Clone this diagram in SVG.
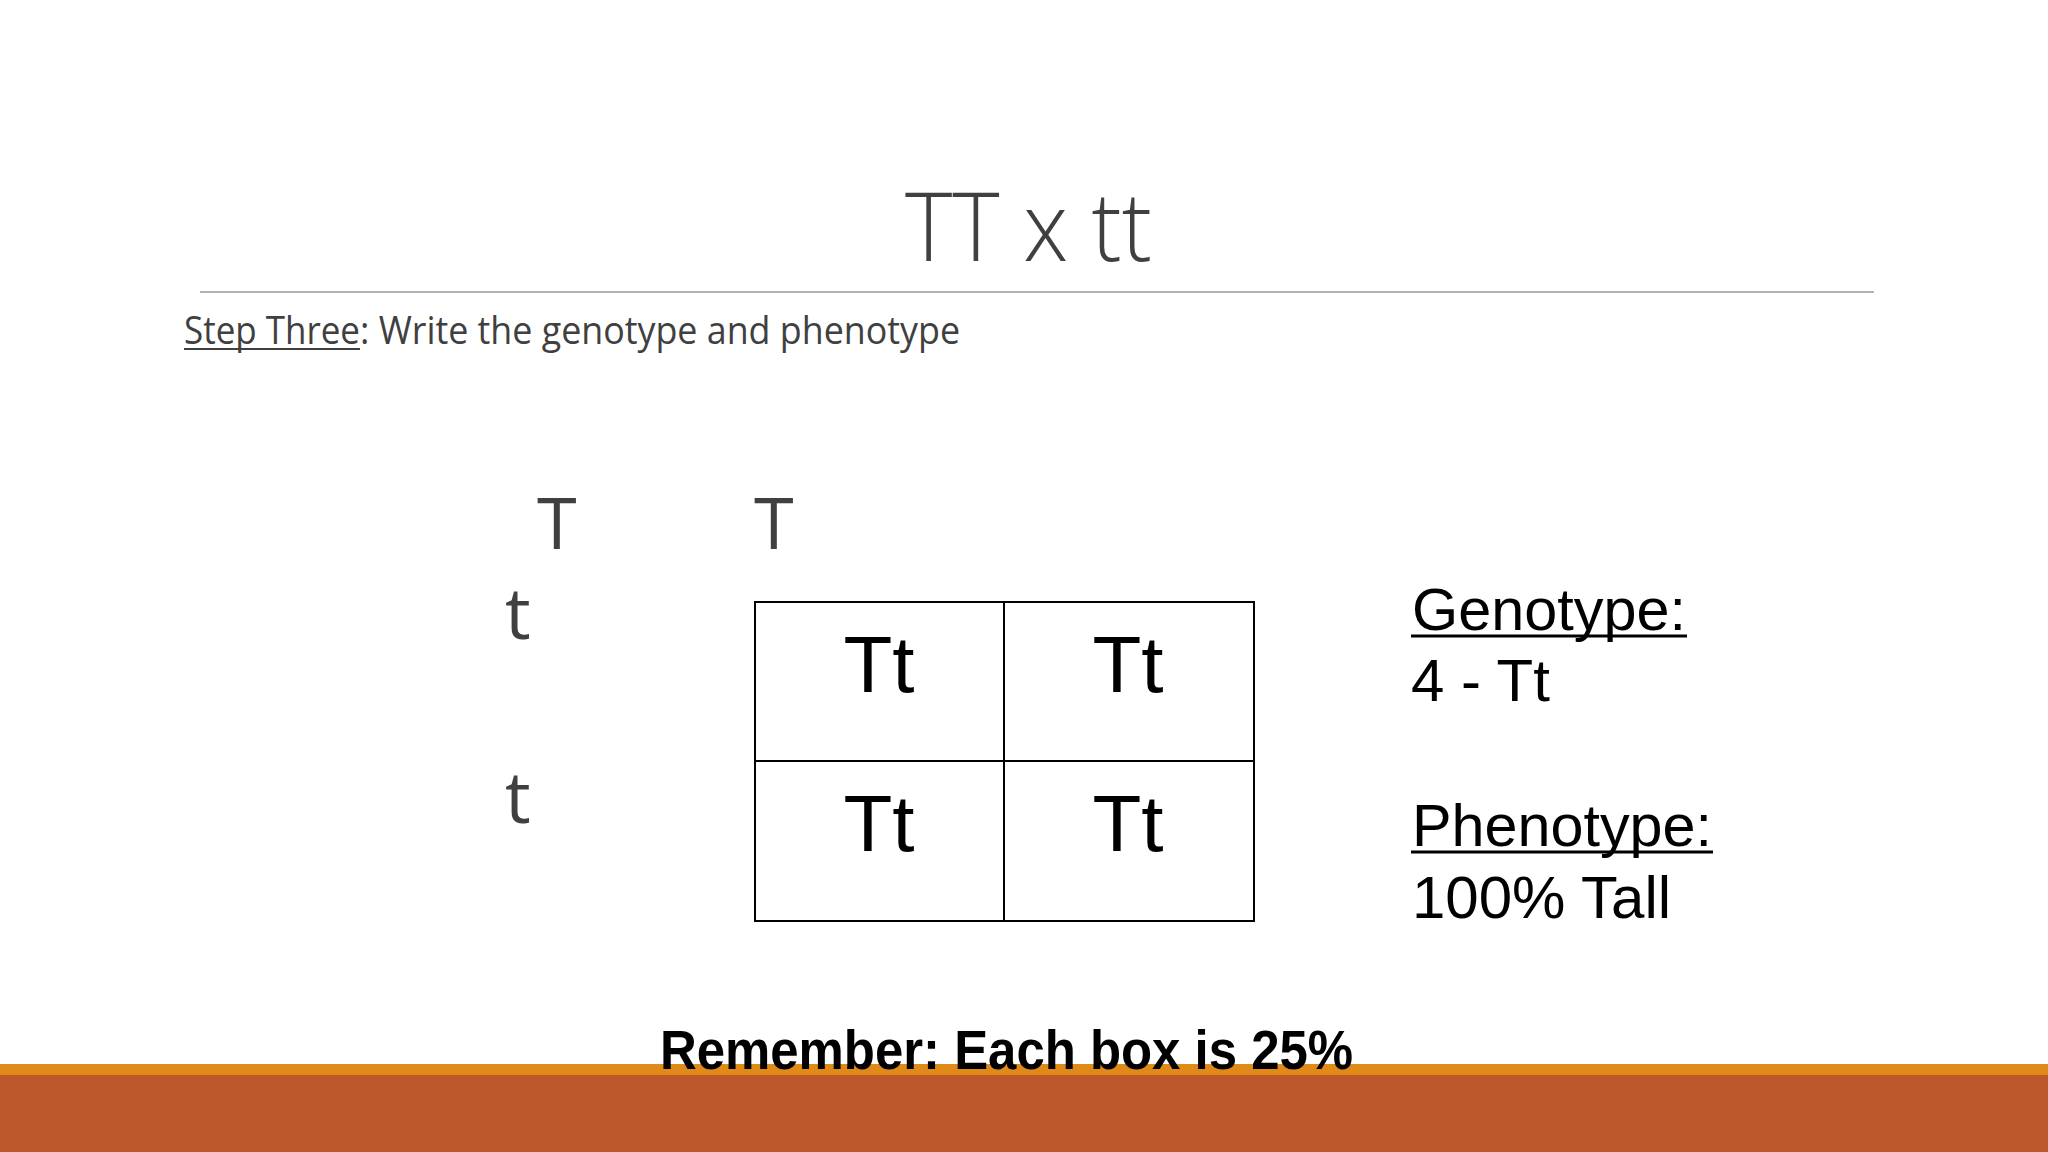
<svg xmlns="http://www.w3.org/2000/svg" width="2048" height="1152" viewBox="0 0 2048 1152">
<style>
.title{font-family:"Open Sans","Liberation Sans",sans-serif;font-weight:300;fill:#404040}
.sub{font-family:"Open Sans","Liberation Sans",sans-serif;font-size:38px;fill:#404040}
.allele{font-family:"Open Sans","Liberation Sans",sans-serif;font-size:72px;fill:#404040}
.cell{font-family:"Liberation Sans",Arial,sans-serif;font-size:80px;fill:#000;text-anchor:middle}
.info{font-family:"Liberation Sans",Arial,sans-serif;font-size:60px;fill:#000}
.grid{fill:none;stroke:#000;stroke-width:2}
</style>
<rect width="2048" height="1152" fill="#ffffff"/>
<g id="title">
<text class="title" x="905" y="261" font-size="96" textLength="247" lengthAdjust="spacingAndGlyphs">TT x tt</text>
<line x1="200" y1="292" x2="1874" y2="292" stroke="#b3b3b3" stroke-width="2"/>
</g>
<g id="subtitle">
<text class="sub" x="184" y="344" textLength="176" lengthAdjust="spacingAndGlyphs">Step Three</text>
<line x1="184" y1="349" x2="360" y2="349" stroke="#404040" stroke-width="2"/>
<text class="sub" x="360" y="344" textLength="600" lengthAdjust="spacingAndGlyphs">: Write the genotype and phenotype</text>
</g>
<g id="alleles">
<text class="allele" x="537" y="549">T</text>
<text class="allele" x="754" y="549">T</text>
<text class="allele" x="505" y="639">t</text>
<text class="allele" x="505" y="823">t</text>
</g>
<g id="punnett">
<rect class="grid" x="755" y="602" width="499" height="319"/>
<line class="grid" x1="1004" y1="602" x2="1004" y2="921"/>
<line class="grid" x1="755" y1="761" x2="1254" y2="761"/>
<text class="cell" x="879" y="692">Tt</text>
<text class="cell" x="1128" y="692">Tt</text>
<text class="cell" x="879" y="851">Tt</text>
<text class="cell" x="1128" y="851">Tt</text>
</g>
<g id="results">
<text class="info" x="1412" y="630" textLength="274" lengthAdjust="spacingAndGlyphs">Genotype:</text>
<line x1="1411" y1="636" x2="1687" y2="636" stroke="#000" stroke-width="3"/>
<text class="info" x="1411" y="701">4 - Tt</text>
<text class="info" x="1412" y="846" textLength="300" lengthAdjust="spacingAndGlyphs">Phenotype:</text>
<line x1="1411" y1="852" x2="1713" y2="852" stroke="#000" stroke-width="3"/>
<text class="info" x="1412" y="918">100% Tall</text>
</g>
<g id="footer">
<rect x="0" y="1064" width="2048" height="11" fill="#e08a1a"/>
<rect x="0" y="1075" width="2048" height="77" fill="#bc582c"/>
<text x="660" y="1069" font-family="'Liberation Sans',Arial,sans-serif" font-weight="bold" font-size="56" fill="#000" textLength="693" lengthAdjust="spacingAndGlyphs">Remember: Each box is 25%</text>
</g>
</svg>
